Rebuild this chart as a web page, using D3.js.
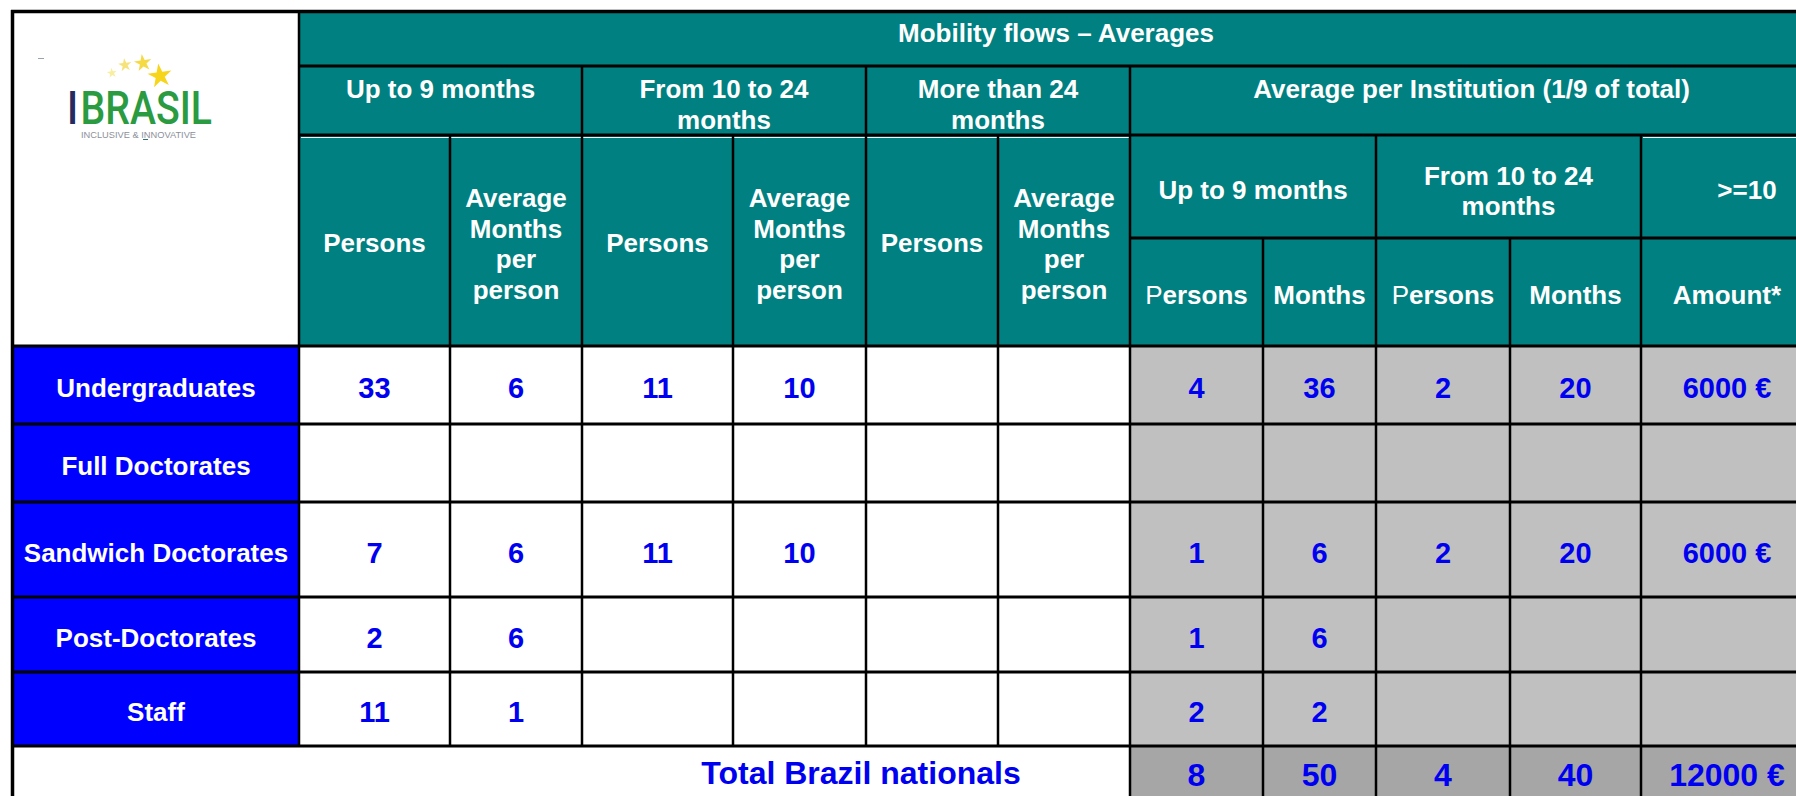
<!DOCTYPE html>
<html>
<head>
<meta charset="utf-8">
<title>Mobility flows – Averages</title>
<script src="https://cdn.jsdelivr.net/npm/d3@7"></script>
<style>
    html, body { margin: 0; padding: 0; background: #fff; overflow: hidden; }
    svg { display: block; }
</style>
</head>
<body>
<div class="mobility-table"></div>
<script>
// table values, read row by row (null = empty cell)
var categories = ['Undergraduates', 'Full Doctorates', 'Sandwich Doctorates', 'Post-Doctorates', 'Staff'];
var upTo9Persons = [33, null, 7, 2, 11];
var upTo9Months = [6, null, 6, 6, 1];
var from10Persons = [11, null, 11, null, null];
var from10Months = [10, null, 10, null, null];
var more24Persons = [null, null, null, null, null];
var more24Months = [null, null, null, null, null];
var instUpTo9Persons = [4, null, 1, 1, 2];
var instUpTo9Months = [36, null, 6, 6, 2];
var instFrom10Persons = [2, null, 2, null, null];
var instFrom10Months = [20, null, 20, null, null];
var instAmount = [6000, null, 6000, null, null];
var totalLabel = 'Total Brazil nationals';
var totals = [8, 50, 4, 40, 12000];

(function(d3, window, document, undefined) {
    'use strict';

    var width = 1796,
        height = 796;

    var teal = '#008080',
        blue = '#0000ff',
        ink = '#0000f0',
        grey = '#c0c0c0',
        darkGrey = '#a6a6a6';

    var font = "'Liberation Sans', Arial, Helvetica, sans-serif";

    /**
     * + scales
     * =====================================================================
     */

    var colKeys = ['label', 'p9', 'm9', 'p24', 'm24', 'pMore', 'mMore', 'ip9', 'im9', 'ip24', 'im24', 'amount', 'end'];
    var x = d3.scaleOrdinal()
                .domain(colKeys)
                .range([13, 299, 450, 582, 733, 866, 998, 1130, 1263, 1376, 1510, 1641, 1813]);

    var rowKeys = ['top', 'group', 'head', 'row0', 'row1', 'row2', 'row3', 'row4', 'total', 'bottom'];
    var y = d3.scaleOrdinal()
                .domain(rowKeys)
                .range([12, 66, 135, 346, 424, 502, 597, 672, 746, 830]);

    var instSplit = 238;

    function nextCol(k) { return colKeys[colKeys.indexOf(k) + 1]; }
    function nextRow(k) { return rowKeys[rowKeys.indexOf(k) + 1]; }
    function cx(a, b) { return (x(a) + x(b || nextCol(a))) / 2; }
    function cy(k) { return (y(k) + y(nextRow(k))) / 2; }

    /* = scales */

    var euro = function(v) { return v + ' €'; };

    var columns = [
        { key: 'p9', values: upTo9Persons },
        { key: 'm9', values: upTo9Months },
        { key: 'p24', values: from10Persons },
        { key: 'm24', values: from10Months },
        { key: 'pMore', values: more24Persons },
        { key: 'mMore', values: more24Months },
        { key: 'ip9', values: instUpTo9Persons },
        { key: 'im9', values: instUpTo9Months },
        { key: 'ip24', values: instFrom10Persons },
        { key: 'im24', values: instFrom10Months },
        { key: 'amount', values: instAmount, format: euro }
    ];

    var cells = [];
    columns.forEach(function(c) {
        c.values.forEach(function(v, i) {
            if (v !== null) {
                cells.push({ col: c.key, row: 'row' + i, text: c.format ? c.format(v) : String(v) });
            }
        });
    });

    var totalCols = ['ip9', 'im9', 'ip24', 'im24', 'amount'];

    var svg = d3.select('.mobility-table').append('svg')
                .attr('width', width)
                .attr('height', height)
                .style('font-family', font);

    /**
     * + backgrounds
     * =====================================================================
     */

    var bg = svg.append('g');

    bg.append('rect')
        .attr('x', x('p9')).attr('y', y('top'))
        .attr('width', width - x('p9') + 40).attr('height', y('row0') - y('top'))
        .attr('fill', teal);

    bg.append('rect')
        .attr('x', x('label')).attr('y', y('row0'))
        .attr('width', x('p9') - x('label')).attr('height', y('total') - y('row0'))
        .attr('fill', blue);

    bg.append('rect')
        .attr('x', x('ip9')).attr('y', y('row0'))
        .attr('width', width - x('ip9') + 40).attr('height', y('total') - y('row0'))
        .attr('fill', grey);

    bg.append('rect')
        .attr('x', x('ip9')).attr('y', y('total'))
        .attr('width', width - x('ip9') + 40).attr('height', y('bottom') - y('total'))
        .attr('fill', darkGrey);

    // thin white highlights under the header rules
    bg.append('line')
        .attr('x1', x('p9') + 2).attr('x2', x('ip9'))
        .attr('y1', y('head') + 2.5).attr('y2', y('head') + 2.5)
        .attr('stroke', '#fff').attr('stroke-width', 1);
    bg.append('line')
        .attr('x1', x('amount') + 2).attr('x2', width)
        .attr('y1', y('head') + 2.5).attr('y2', y('head') + 2.5)
        .attr('stroke', '#fff').attr('stroke-width', 1);

    /* = backgrounds */

    /**
     * + logo
     * =====================================================================
     */

    var logo = svg.append('g').attr('class', 'logo');

    var stars = [
        { cx: 112, cy: 73, size: 32, fill: '#f8eea0' },
        { cx: 125, cy: 65, size: 55, fill: '#f6e27a' },
        { cx: 143, cy: 63, size: 95, fill: '#f5da45' },
        { cx: 160, cy: 76, size: 180, fill: '#f7d51a' }
    ];
    logo.selectAll('path.star')
        .data(stars)
        .enter().append('path')
        .attr('class', 'star')
        .attr('transform', function(d) { return 'translate(' + d.cx + ',' + d.cy + ') rotate(-8)'; })
        .attr('d', function(d) { return d3.symbol(d3.symbolStar, d.size)(); })
        .attr('fill', function(d) { return d.fill; });

    var brand = logo.append('text')
        .attr('x', 67).attr('y', 124)
        .attr('textLength', 145)
        .attr('lengthAdjust', 'spacingAndGlyphs')
        .style('font-family', "Roboto, 'DejaVu Sans Condensed', sans-serif")
        .style('font-size', '47px')
        .style('font-weight', 500);
    brand.append('tspan').attr('fill', '#252b5e').text('I');
    brand.append('tspan').attr('fill', '#2a9b40').attr('dx', 3).text('BRASIL');

    logo.append('text')
        .attr('x', 81).attr('y', 137.5)
        .attr('textLength', 115)
        .attr('lengthAdjust', 'spacingAndGlyphs')
        .attr('fill', '#8c909a')
        .style('font-size', '8.5px')
        .text('INCLUSIVE & INNOVATIVE');

    logo.append('line')
        .attr('x1', 38).attr('x2', 44).attr('y1', 58.5).attr('y2', 58.5)
        .attr('stroke', '#9aa3ad').attr('stroke-width', 1);
    logo.append('line')
        .attr('x1', 143).attr('x2', 148).attr('y1', 139.5).attr('y2', 139.5)
        .attr('stroke', '#2f6f73').attr('stroke-width', 1);

    /* = logo */

    /**
     * + grid lines
     * =====================================================================
     */

    var hLines = [
        { y: y('group'), x1: x('p9'), x2: width },
        { y: y('head'), x1: x('p9'), x2: width },
        { y: instSplit, x1: x('ip9'), x2: width },
        { y: y('row0'), x1: x('label'), x2: width },
        { y: y('row1'), x1: x('label'), x2: width },
        { y: y('row2'), x1: x('label'), x2: width },
        { y: y('row3'), x1: x('label'), x2: width },
        { y: y('row4'), x1: x('label'), x2: width },
        { y: y('total'), x1: x('label'), x2: width }
    ];

    var vLines = [
        { x: x('p9'), y1: y('top'), y2: y('total') },
        { x: x('m9'), y1: y('head'), y2: y('total') },
        { x: x('p24'), y1: y('group'), y2: y('total') },
        { x: x('m24'), y1: y('head'), y2: y('total') },
        { x: x('pMore'), y1: y('group'), y2: y('total') },
        { x: x('mMore'), y1: y('head'), y2: y('total') },
        { x: x('ip9'), y1: y('group'), y2: y('bottom') },
        { x: x('im9'), y1: instSplit, y2: y('bottom') },
        { x: x('ip24'), y1: y('head'), y2: y('bottom') },
        { x: x('im24'), y1: instSplit, y2: y('bottom') },
        { x: x('amount'), y1: y('head'), y2: y('bottom') }
    ];

    var grid = svg.append('g').attr('stroke', '#000');

    grid.selectAll('line.h')
        .data(hLines)
        .enter().append('line')
        .attr('class', 'h')
        .attr('x1', function(d) { return d.x1; })
        .attr('x2', function(d) { return d.x2; })
        .attr('y1', function(d) { return d.y; })
        .attr('y2', function(d) { return d.y; })
        .attr('stroke-width', 3);

    grid.selectAll('line.v')
        .data(vLines)
        .enter().append('line')
        .attr('class', 'v')
        .attr('x1', function(d) { return d.x; })
        .attr('x2', function(d) { return d.x; })
        .attr('y1', function(d) { return d.y1; })
        .attr('y2', function(d) { return d.y2; })
        .attr('stroke-width', 2.5);

    // outer frame
    grid.append('line')
        .attr('x1', x('label') - 0.5).attr('x2', x('label') - 0.5)
        .attr('y1', y('top') - 2).attr('y2', height)
        .attr('stroke-width', 3.5);
    grid.append('line')
        .attr('x1', x('label') - 2).attr('x2', width)
        .attr('y1', y('top') - 0.5).attr('y2', y('top') - 0.5)
        .attr('stroke-width', 3.5);

    /* = grid lines */

    /**
     * + header texts
     * =====================================================================
     */

    var head = svg.append('g')
                .attr('fill', '#fff')
                .attr('text-anchor', 'middle')
                .style('font-size', '26px')
                .style('font-weight', 'bold');

    function block(g, lines, px, py, lh) {
        var top = py - (lines.length - 1) * lh / 2;
        lines.forEach(function(line, i) {
            g.append('text')
                .attr('x', px)
                .attr('y', top + i * lh)
                .attr('dy', '0.35em')
                .text(line);
        });
    }

    block(head, ['Mobility flows – Averages'], cx('p9', 'end'), y('top') + 21, 30);

    block(head, ['Up to 9 months'], cx('p9', 'p24'), y('group') + 23, 30);
    block(head, ['From 10 to 24', 'months'], cx('p24', 'pMore'), y('group') + 38, 31);
    block(head, ['More than 24', 'months'], cx('pMore', 'ip9'), y('group') + 38, 31);
    block(head, ['Average per Institution (1/9 of total)'], cx('ip9', 'end'), y('group') + 23, 30);

    ['p9', 'p24', 'pMore'].forEach(function(k) {
        block(head, ['Persons'], cx(k), 243, 30);
    });
    ['m9', 'm24', 'mMore'].forEach(function(k) {
        block(head, ['Average', 'Months', 'per', 'person'], cx(k), 244, 30.7);
    });

    block(head, ['Up to 9 months'], cx('ip9', 'ip24'), 190, 30);
    block(head, ['From 10 to 24', 'months'], cx('ip24', 'amount'), 191, 30);
    block(head, ['>=10'], cx('amount', 'end') + 20, 190, 30);

    ['ip9', 'ip24'].forEach(function(k) {
        var t = head.append('text')
            .attr('x', cx(k))
            .attr('y', 295)
            .attr('dy', '0.35em');
        t.append('tspan').style('font-weight', 'normal').text('P');
        t.append('tspan').text('ersons');
    });
    ['im9', 'im24'].forEach(function(k) {
        block(head, ['Months'], cx(k), 295, 30);
    });
    block(head, ['Amount*'], cx('amount'), 295, 30);

    /* = header texts */

    /**
     * + row labels and values
     * =====================================================================
     */

    svg.append('g')
        .attr('fill', '#fff')
        .attr('text-anchor', 'middle')
        .style('font-size', '26px')
        .style('font-weight', 'bold')
        .selectAll('text')
        .data(categories)
        .enter().append('text')
        .attr('x', cx('label'))
        .attr('y', function(d, i) { return cy('row' + i) + 3; })
        .attr('dy', '0.35em')
        .text(function(d) { return d; });

    svg.append('g')
        .attr('fill', ink)
        .attr('text-anchor', 'middle')
        .style('font-size', '29px')
        .style('font-weight', 'bold')
        .selectAll('text')
        .data(cells)
        .enter().append('text')
        .attr('x', function(d) { return cx(d.col); })
        .attr('y', function(d) { return cy(d.row) + 3; })
        .attr('dy', '0.35em')
        .text(function(d) { return d.text; });

    var totalRow = svg.append('g')
                .attr('fill', ink)
                .attr('text-anchor', 'middle')
                .style('font-size', '32px')
                .style('font-weight', 'bold');

    totalRow.append('text')
        .attr('x', cx('p24', 'ip9') + 5)
        .attr('y', y('total') + 27)
        .attr('dy', '0.35em')
        .text(totalLabel);

    totalRow.selectAll('text.total')
        .data(totals)
        .enter().append('text')
        .attr('class', 'total')
        .attr('x', function(d, i) { return cx(totalCols[i]); })
        .attr('y', y('total') + 29)
        .attr('dy', '0.35em')
        .text(function(d, i) { return totalCols[i] === 'amount' ? euro(d) : d; });

    /* = row labels and values */

})(d3, window, document);
</script>
</body>
</html>
